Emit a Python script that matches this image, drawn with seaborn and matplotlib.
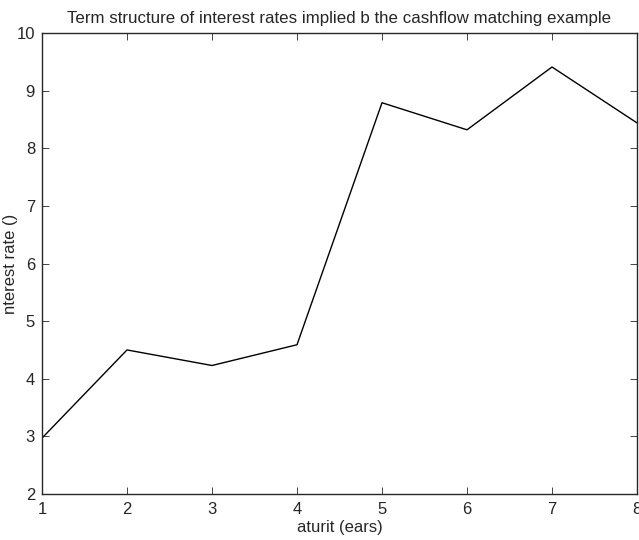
import numpy as np
import pandas as pd
import matplotlib
matplotlib.use("Agg")
import matplotlib.pyplot as plt
import seaborn as sns

maturity = [1, 2, 3, 4, 5, 6, 7, 8]
rate = [2.97, 4.50, 4.23, 4.59, 8.79, 8.32, 9.41, 8.44]

df = pd.DataFrame({"maturity": maturity, "rate": rate})

sns.set_style("ticks")
plt.rcParams['font.family'] = ['Liberation Sans', 'DejaVu Sans']

fig = plt.figure(figsize=(6.39, 5.4), dpi=100)
ax = fig.add_axes([42/639, 46/540, 595/639, 461/540])
sns.lineplot(data=df, x="maturity", y="rate", color="black", linewidth=1, ax=ax)

ax.set_xlim(1, 8)
ax.set_ylim(2, 10)
ax.set_xticks(range(1, 9))
ax.set_yticks(range(2, 11))
ax.tick_params(direction="in", length=5, labelsize=12, top=True, right=True,
               labeltop=False, labelright=False, width=0.6)
ax.tick_params(axis="x", pad=6)
ax.tick_params(axis="y", pad=5)
for s in ax.spines.values():
    s.set_visible(True)
    s.set_linewidth(1)
ax.set_title("Term structure of interest rates implied b the cashflow matching example",
             fontsize=12.2, pad=7)
ax.set_xlabel("aturit (ears)", fontsize=12, labelpad=2)
ax.set_ylabel("nterest rate ()", fontsize=12)
ax.yaxis.set_label_coords(-0.040, 0.5)

fig.savefig("out.png", dpi=100)
